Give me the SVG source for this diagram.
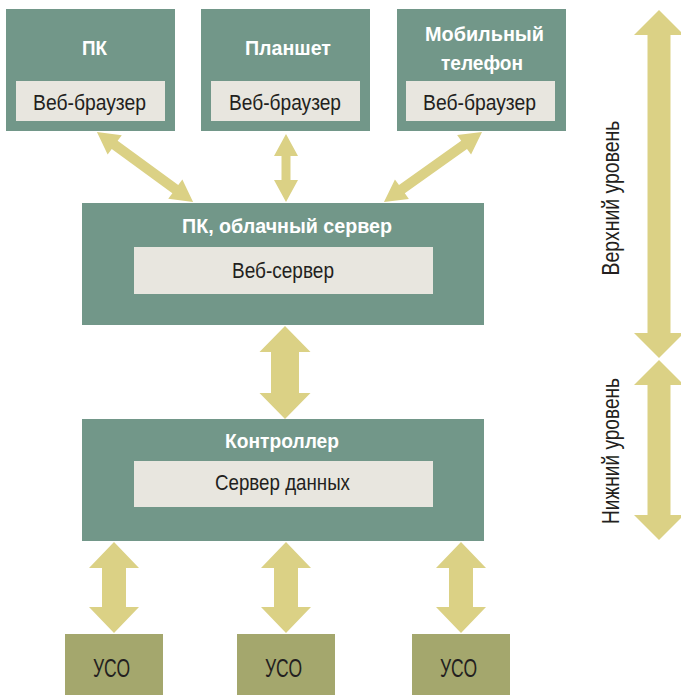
<svg xmlns="http://www.w3.org/2000/svg" xmlns:xlink="http://www.w3.org/1999/xlink" width="681" height="695" viewBox="0 0 681 695">
<style>
.box{fill:#729789}
.inner{fill:#E8E6DF}
.uso{fill:#A4A76D}
.arr{fill:#DBD185}
.t{font-family:"Liberation Sans Narrow","Liberation Sans",Arial,sans-serif;font-size:22px;fill:#231F20;text-anchor:middle}
.u{font-size:25px}
.r{font-size:23px}
.b{font-family:"Liberation Sans Narrow","Liberation Sans",Arial,sans-serif;font-size:21px;font-weight:bold;fill:#FFFFFF;text-anchor:middle}
</style>
<defs>
<polygon id="va" points="0,0 25,26 12,26 12,65 25,65 0,91 -25,65 -12,65 -12,26 -25,26"/>
</defs>
<rect width="681" height="695" fill="#FFFFFF"/>
<g id="connectors" class="arr">
<polygon transform="translate(145,167) rotate(36.1)" points="-59.5,0 -37.5,-12 -37.5,-5 37.5,-5 37.5,-12 59.5,0 37.5,12 37.5,5 -37.5,5 -37.5,12"/>
<polygon points="286,134 298,156 290.5,156 290.5,180 298,180 286,202 274,180 281.5,180 281.5,156 274,156"/>
<polygon transform="translate(433,167) rotate(-35.5)" points="-60.2,0 -38.2,-12 -38.2,-5 38.2,-5 38.2,-12 60.2,0 38.2,12 38.2,5 -38.2,5 -38.2,12"/>
<polygon points="285,326 310.5,352 299,352 299,393 310.5,393 285,419 259.5,393 271,393 271,352 259.5,352"/>
<use xlink:href="#va" href="#va" transform="translate(114,542)"/>
<use xlink:href="#va" href="#va" transform="translate(286,542)"/>
<use xlink:href="#va" href="#va" transform="translate(461,542)"/>
<polygon points="659,10 684,35 670.5,35 670.5,333 684,333 659,358 634,333 647.5,333 647.5,35 634,35"/>
<polygon points="659,360 684,385 670.5,385 670.5,515 684,515 659,540 634,515 647.5,515 647.5,385 634,385"/>
</g>
<g id="pc">
<rect class="box" x="6" y="9" width="169" height="122"/>
<text class="b" x="94.5" y="55" textLength="25" lengthAdjust="spacingAndGlyphs">ПК</text>
<rect class="inner" x="16" y="81" width="149" height="40"/>
<text class="t" x="89.5" y="110" textLength="113" lengthAdjust="spacingAndGlyphs">Веб-браузер</text>
</g>
<g id="tablet">
<rect class="box" x="201" y="9" width="169" height="122"/>
<text class="b" x="288" y="55" textLength="86" lengthAdjust="spacingAndGlyphs">Планшет</text>
<rect class="inner" x="211" y="81" width="149" height="40"/>
<text class="t" x="285" y="110" textLength="112" lengthAdjust="spacingAndGlyphs">Веб-браузер</text>
</g>
<g id="mobile">
<rect class="box" x="397" y="9" width="169" height="122"/>
<text class="b" x="484.5" y="41" textLength="119" lengthAdjust="spacingAndGlyphs">Мобильный</text>
<text class="b" x="482" y="70" textLength="82" lengthAdjust="spacingAndGlyphs">телефон</text>
<rect class="inner" x="406" y="81" width="149" height="40"/>
<text class="t" x="479.5" y="110" textLength="113" lengthAdjust="spacingAndGlyphs">Веб-браузер</text>
</g>
<g id="cloud">
<rect class="box" x="82" y="203" width="402" height="122"/>
<text class="b" x="287" y="233" textLength="210" lengthAdjust="spacingAndGlyphs">ПК, облачный сервер</text>
<rect class="inner" x="134" y="247" width="299" height="47"/>
<text class="t" x="283" y="278" textLength="102" lengthAdjust="spacingAndGlyphs">Веб-сервер</text>
</g>
<g id="controller">
<rect class="box" x="82" y="419" width="402" height="122"/>
<text class="b" x="282" y="448" textLength="114" lengthAdjust="spacingAndGlyphs">Контроллер</text>
<rect class="inner" x="134" y="461" width="299" height="46"/>
<text class="t" x="282.5" y="490" textLength="135" lengthAdjust="spacingAndGlyphs">Сервер данных</text>
</g>
<g id="uso1">
<rect class="uso" x="65" y="634" width="98" height="61"/>
<text class="t u" x="111.5" y="677" textLength="37" lengthAdjust="spacingAndGlyphs">УСО</text>
</g>
<g id="uso2">
<rect class="uso" x="237" y="634" width="98" height="61"/>
<text class="t u" x="283.5" y="677" textLength="37" lengthAdjust="spacingAndGlyphs">УСО</text>
</g>
<g id="uso3">
<rect class="uso" x="412" y="634" width="98" height="61"/>
<text class="t u" x="458.5" y="677" textLength="37" lengthAdjust="spacingAndGlyphs">УСО</text>
</g>
<g id="levels">
<text class="t r" transform="translate(619,198) rotate(-90)" textLength="155" lengthAdjust="spacingAndGlyphs">Верхний уровень</text>
<text class="t r" transform="translate(619,451) rotate(-90)" textLength="146" lengthAdjust="spacingAndGlyphs">Нижний уровень</text>
</g>
</svg>
